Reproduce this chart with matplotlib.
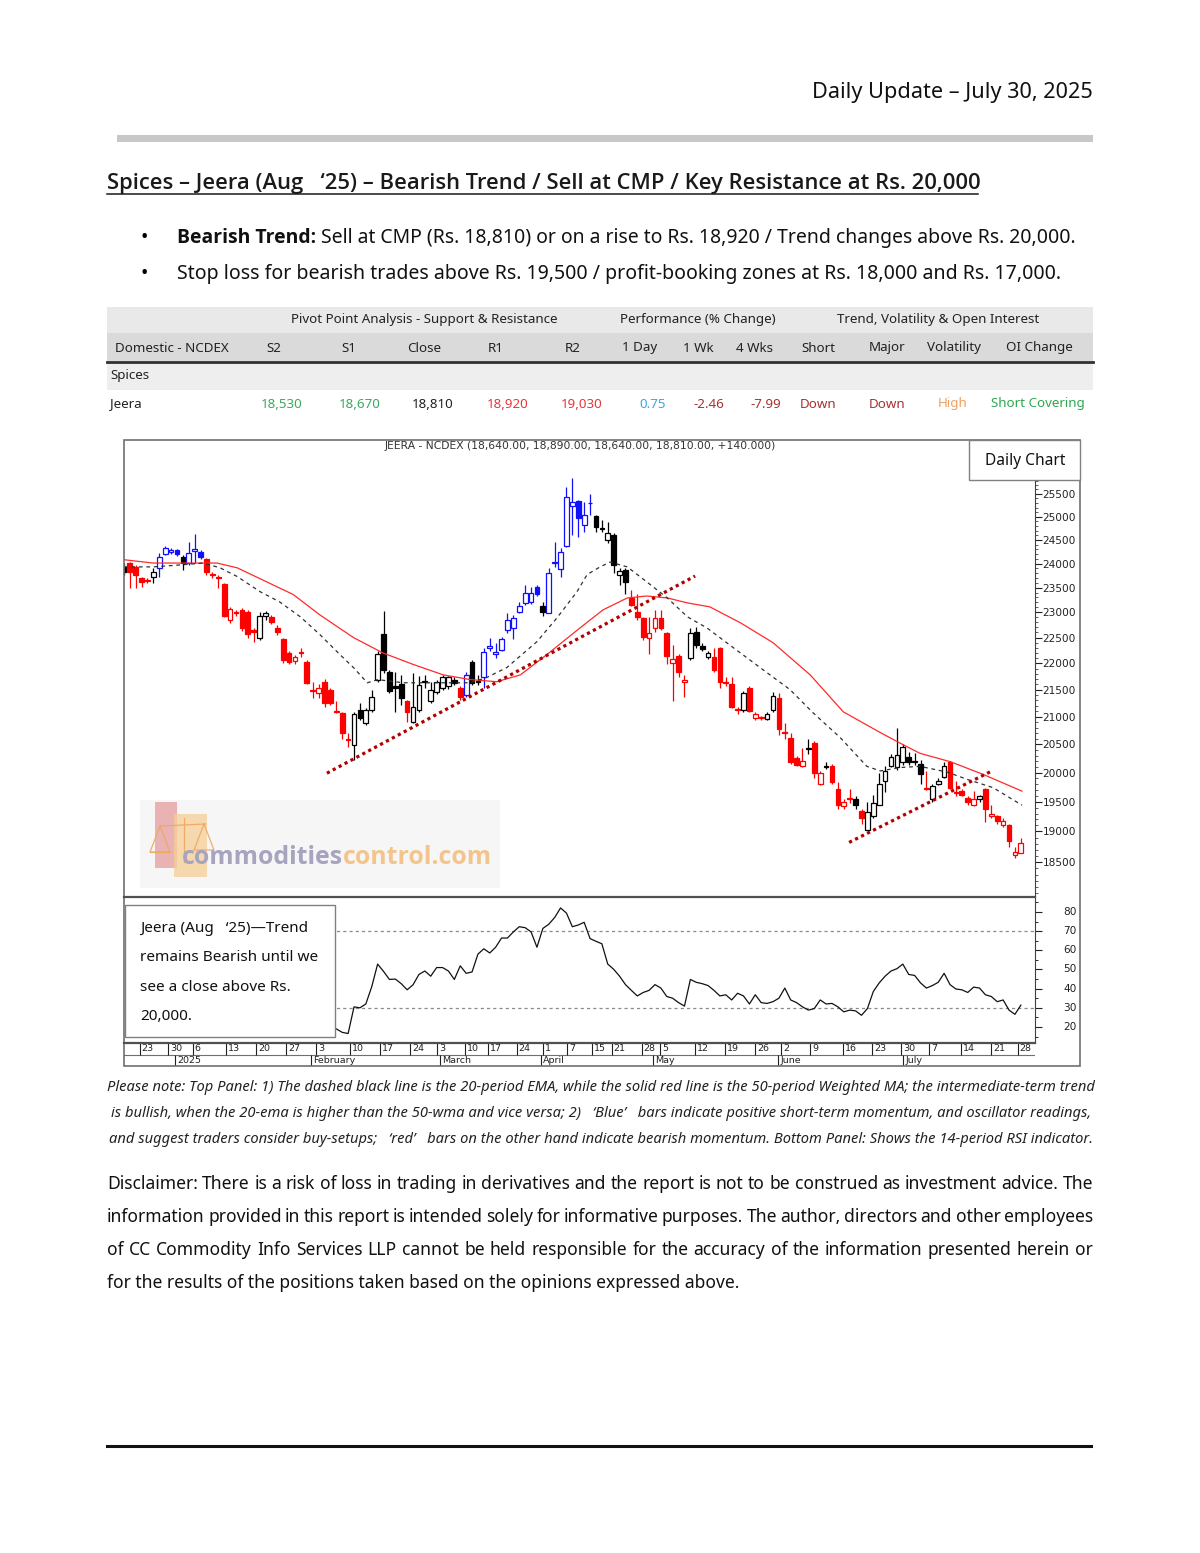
import numpy as np
import matplotlib
matplotlib.use('Agg')
import matplotlib.pyplot as plt
from matplotlib.patches import Rectangle
from matplotlib.lines import Line2D
from matplotlib.ticker import FixedLocator, FixedFormatter, NullFormatter

W, H = 1200, 1553
FONT = 'Noto Sans'
BOLD_FONT = ['Open Sans', 'DejaVu Sans']

# ---------------- data ----------------
opens = [23770, 23930, 24010, 23930, 23700, 23650, 23730, 23910, 24200, 24240,
         24290, 24140, 24010, 24270, 24240, 24100, 23790, 23720, 23580, 22850,
         23000, 23050, 23010, 22650, 22500, 22930, 22910, 22690, 22480, 22200,
         22050, 22190, 22030, 21500, 21440, 21650, 21500, 21110, 21070, 20590,
         20490, 21130, 20890, 21130, 21690, 22560, 21840, 21560, 21610, 21280,
         20910, 21130, 21640, 21280, 21460, 21540, 21560, 21690, 21540, 21410,
         22030, 21660, 21730, 22300, 22170, 22260, 22650, 22690, 23010, 23190,
         23210, 23520, 23130, 22990, 24010, 23890, 24370, 25230, 25340, 24820,
         25290, 25020, 24760, 24500, 24610, 23770, 23870, 23290, 23010, 22890,
         22500, 22690, 22890, 22590, 22010, 22150, 21650, 22110, 22610, 22340,
         22130, 22130, 22300, 21640, 21610, 21140, 21130, 21540, 20980, 20990,
         20960, 21130, 21350, 20730, 20620, 20260, 20120, 20410, 20530, 19810,
         20100, 20110, 19710, 19420, 19560, 19550, 19340, 19030, 19250, 19450,
         19860, 20120, 20090, 20180, 20280, 20200, 20160, 19740, 19540, 19810,
         19920, 20180, 19670, 19680, 19570, 19450, 19540, 19710, 19250, 19250,
         19100, 19100, 18620, 18640]
highs = [23930, 24010, 24040, 23960, 23720, 23700, 23910, 24220, 24380, 24330,
         24310, 24180, 24460, 24630, 24290, 24120, 23830, 23770, 23600, 23110,
         23050, 23090, 23050, 22680, 23010, 23030, 22950, 22750, 22500, 22240,
         22160, 22300, 22070, 21650, 21600, 21700, 21540, 21280, 21090, 20700,
         21090, 21250, 21160, 21500, 22230, 23030, 21880, 21840, 21780, 21310,
         21820, 21760, 21780, 21650, 21690, 21780, 21760, 21730, 21560, 21840,
         22070, 21780, 22300, 22500, 22400, 22520, 22990, 22950, 23210, 23560,
         23520, 23560, 23210, 23910, 24460, 24330, 25660, 25860, 25370, 25320,
         25500, 25040, 24930, 24890, 24650, 23910, 23910, 23460, 23370, 22910,
         22910, 23050, 23050, 22610, 22360, 22170, 21780, 22690, 22710, 22400,
         22240, 22300, 22320, 21730, 21730, 21180, 21480, 21560, 21090, 21020,
         21090, 21460, 21440, 20890, 20710, 20300, 20440, 20590, 20560, 20030,
         20180, 20150, 19830, 19550, 19710, 19590, 19370, 19500, 19620, 20000,
         20110, 20320, 20790, 20510, 20360, 20340, 20230, 20030, 19800, 19900,
         20180, 20200, 19850, 19710, 19600, 19680, 19620, 19740, 19450, 19280,
         19230, 19130, 18750, 18890]
lows = [23730, 23770, 23500, 23500, 23520, 23600, 23600, 23730, 24170, 24200,
        24150, 23870, 23970, 24010, 24100, 23770, 23700, 23500, 22900, 22790,
        22930, 22620, 22490, 22420, 22450, 22850, 22770, 22550, 22010, 21990,
        21990, 22130, 21610, 21350, 21350, 21180, 21220, 21070, 20590, 20450,
        20230, 20940, 20850, 21090, 21650, 21820, 21440, 21090, 21220, 20910,
        20890, 21090, 21540, 21260, 21420, 21500, 21520, 21580, 21310, 21370,
        21590, 21590, 21540, 22240, 22110, 22240, 22590, 22480, 22990, 23150,
        23170, 23330, 22930, 22990, 23930, 23730, 24350, 24610, 24560, 24670,
        25040, 24670, 24670, 24440, 23810, 23560, 23370, 23130, 22850, 22460,
        22170, 22610, 22650, 21990, 21280, 21740, 21370, 22070, 22300, 22240,
        22090, 21840, 21540, 21560, 21160, 21040, 21090, 21090, 20940, 20940,
        20940, 21090, 20670, 20590, 20160, 20110, 20100, 20320, 19900, 19790,
        20070, 19800, 19370, 19370, 19470, 19370, 19120, 19020, 19230, 19440,
        19660, 20090, 20050, 20140, 20140, 20140, 19800, 19700, 19500, 19790,
        19900, 19710, 19600, 19590, 19450, 19420, 19500, 19150, 19230, 19130,
        19070, 18750, 18570, 18640]
closes = [23910, 23820, 23830, 23770, 23620, 23630, 23830, 24140, 24330, 24290,
          24200, 24010, 24220, 24300, 24140, 23830, 23770, 23700, 22930, 23070,
          22980, 22690, 22570, 22600, 22930, 22990, 22810, 22610, 22070, 22030,
          22130, 22210, 21630, 21480, 21540, 21260, 21260, 21090, 20710, 20570,
          21040, 20980, 21130, 21370, 22170, 21880, 21480, 21540, 21350, 21090,
          21180, 21580, 21660, 21500, 21650, 21730, 21730, 21620, 21370, 21780,
          21630, 21640, 22220, 22330, 22220, 22480, 22850, 22890, 23130, 23390,
          23390, 23370, 23010, 23810, 24040, 24240, 25430, 25320, 24970, 25040,
          25310, 24780, 24740, 24650, 23970, 23850, 23620, 23150, 22910, 22520,
          22590, 22890, 22690, 22150, 22090, 21840, 21690, 22590, 22360, 22280,
          22200, 21880, 21650, 21620, 21180, 21120, 21430, 21110, 21050, 20970,
          21040, 21390, 20770, 20710, 20190, 20140, 20210, 20430, 20000, 19990,
          20120, 19830, 19450, 19500, 19540, 19440, 19230, 19320, 19470, 19800,
          20030, 20280, 20310, 20460, 20190, 20180, 19970, 19720, 19760, 19860,
          20110, 19730, 19650, 19610, 19500, 19540, 19590, 19370, 19300, 19170,
          19180, 18840, 18670, 18810]
# k = neutral, r = bearish momentum, b = positive momentum
bar_colors = ('kkrrrrk' 'bbbb' 'k' 'bbb' 'rrrrrrrrr' 'kk' 'rrrrrrrrrrrrrr'
              'kkkkkkkkk' 'r' 'kkkkkkkk' 'r' 'b' 'kk' 'bbbbbbbbbb' 'k'
              'bbbbbbbb' 'kkkkkk' 'rrrrrrrrrr' 'kkkk' 'rrrrr' 'k' 'rrr' 'kk'
              'rrrrr' 'k' 'rr' 'k' 'rrrr' 'k' 'r' 'kkkkkkkkkk' 'r' 'kkk'
              'rrrrr' 'k' 'rrrrrrr')

# 20-period EMA (dashed) and 50-period WMA (red) read at bar positions
ema_idx = [1.0, 5.95, 10.5, 14.5, 17.3, 20.2, 24.05, 27.4, 30.9, 34.2, 37.6,
           39.9, 42.25, 44.0, 48.3, 54.0, 59.7, 62.5, 65.9, 71.0, 74.4, 77.8,
           79.5, 81.7, 83.4, 86.3, 89.6, 93.1, 96.5, 99.8, 104.3, 110.0, 113.9,
           117.8, 122.4, 126.9, 129.2, 132.6, 135.9, 140.5, 144.0, 148.3, 153.2]
ema_val = [23930, 23930, 23970, 24010, 23910, 23730, 23420, 23210, 22910,
           22560, 22170, 21920, 21630, 21690, 21630, 21630, 21630, 21730, 21920,
           22420, 22890, 23420, 23770, 23930, 24030, 23930, 23620, 23290, 22910,
           22690, 22300, 21820, 21500, 21070, 20620, 20110, 20030, 20090, 20110,
           20010, 19880, 19740, 19440]
wma_idx = [1.0, 5.95, 11.7, 16.8, 20.2, 24.5, 29.7, 34.2, 39.9, 44.9, 50.0,
           55.1, 59.7, 64.2, 68.2, 72.7, 75.4, 78.3, 82.2, 86.3, 89.6, 93.1,
           96.5, 100.3, 105.5, 111.0, 117.3, 122.9, 129.2, 133.1, 135.9, 141.1,
           146.6, 153.2]
wma_val = [24080, 24010, 24010, 24010, 23910, 23660, 23360, 22950, 22500,
           22200, 21980, 21780, 21690, 21650, 21780, 22170, 22420, 22690, 23050,
           23290, 23330, 23290, 23190, 23110, 22790, 22400, 21780, 21090, 20710,
           20490, 20340, 20190, 19970, 19680]

trend1_idx = [35.4, 97.8]
trend1_val = [19990, 23740]
trend2_idx = [123.9, 148.3]
trend2_val = [18820, 20040]

rsi = [19, 17.2, 16.6, 30.5, 30, 32, 41, 52.8, 49, 44.8,
       45, 42.6, 39.4, 42, 47.4, 49.2, 46.5, 51, 51, 49.2,
       44.8, 51.9, 48, 48.7, 58, 60.8, 58.6, 61.6, 66.4, 66.4,
       69.6, 72.3, 71.8, 69.6, 61.6, 71.4, 73.6, 77.1, 82.1, 79.4,
       72.3, 73.2, 74.6, 66.1, 64.7, 63.4, 52.8, 50.1, 46.5, 42.1,
       39.1, 36.2, 38, 39.1, 42.1, 40.3, 35.9, 35, 32.7, 30.9,
       44.8, 43.3, 42.6, 41.6, 39.1, 36.2, 36.8, 34.1, 37.6, 36.2,
       32, 36.8, 32.7, 32.3, 33.2, 35, 40.3, 34.1, 32.7, 30.5,
       28.8, 29.6, 34.1, 32, 32.3, 30.5, 27.9, 28.8, 28.4, 26.1,
       29.6, 38.5, 43, 46.5, 49.2, 50.4, 52.8, 47.4, 46.9, 43,
       40.3, 41.6, 43.3, 48, 42.1, 39.8, 39.4, 38, 40.8, 40.3,
       36.8, 35.9, 33.2, 34.1, 28.8, 26.6, 31.4]

price_ticks = [18500, 19000, 19500, 20000, 20500, 21000, 21500, 22000,
               22500, 23000, 23500, 24000, 24500, 25000, 25500]
rsi_ticks = [20, 30, 40, 50, 60, 70, 80]

day_labels = ['23', '30', '6', '13', '20', '27', '3', '10', '17', '24', '3',
              '10', '17', '24', '1', '7', '15', '21', '28', '5', '12', '19',
              '26', '2', '9', '16', '23', '30', '7', '14', '21', '28']
day_pos = [3.7, 8.5, 12.7, 18.3, 23.4, 28.5, 33.6, 39.3, 44.4, 49.5, 54.1,
           58.8, 62.7, 67.6, 72.0, 76.1, 80.3, 83.7, 88.8, 91.9, 97.8, 102.9,
           108.0, 112.4, 117.3, 122.9, 127.8, 132.7, 137.5, 142.9, 148.0, 152.5]
month_labels = ['2025', 'February', 'March', 'April', 'May', 'June', 'July']
month_pos = [9.7, 32.7, 54.6, 71.7, 90.7, 111.9, 133.1]

group_headers = ['Pivot Point Analysis - Support & Resistance',
                 'Performance (% Change)', 'Trend, Volatility & Open Interest']
col_headers = ['Domestic - NCDEX', 'S2', 'S1', 'Close', 'R1', 'R2', '1 Day',
               '1 Wk', '4 Wks', 'Short', 'Major', 'Volatility', 'OI Change']
row_values = ['Jeera', '18,530', '18,670', '18,810', '18,920', '19,030', '0.75',
              '-2.46', '-7.99', 'Down', 'Down', 'High', 'Short Covering']
value_colors = ['#222222', '#3aaa5c', '#3aaa5c', '#222222', '#e8353a',
                '#e8353a', '#3aa8dc', '#a83232', '#a83232', '#a83232',
                '#a83232', '#f0a060', '#2ea84e']

update_title = 'Daily Update \u2013 July 30, 2025'
heading = ('Spices \u2013 Jeera (Aug   \u201825) \u2013 Bearish Trend / Sell at CMP / '
           'Key Resistance at Rs. 20,000')
bullet1 = [('Bearish Trend:', 'bold'),
           (' Sell at CMP (Rs. 18,810) or on a rise to Rs. 18,920 / Trend changes above Rs. 20,000.', 'normal')]
bullet2 = 'Stop loss for bearish trades above Rs. 19,500 / profit-booking zones at Rs. 18,000 and Rs. 17,000.'
chart_title = 'JEERA - NCDEX (18,640.00, 18,890.00, 18,640.00, 18,810.00, +140.000)'
rsi_note = ['Jeera (Aug   \u201825)\u2014Trend', 'remains Bearish until we',
            'see a close above Rs.', '20,000.']
caption = ['Please note: Top Panel: 1) The dashed black line is the 20-period EMA, while the solid red line is the 50-period Weighted MA; the intermediate-term trend',
           'is bullish, when the 20-ema is higher than the 50-wma and vice versa; 2)   \u2018Blue\u2019   bars indicate positive short-term momentum, and oscillator readings,',
           'and suggest traders consider buy-setups;   \u2018red\u2019   bars on the other hand indicate bearish momentum. Bottom Panel: Shows the 14-period RSI indicator.']
disclaimer = ['Disclaimer: There is a risk of loss in trading in derivatives and the report is not to be construed as investment advice. The',
              'information provided in this report is intended solely for informative purposes. The author, directors and other employees',
              'of CC Commodity Info Services LLP cannot be held responsible for the accuracy of the information presented herein or',
              'for the results of the positions taken based on the opinions expressed above.']

# ---------------- helpers ----------------
fig = plt.figure(figsize=(W / 100, H / 100), dpi=100)
fig.patch.set_facecolor('white')
renderer = fig.canvas.get_renderer()


def px_axes(x0, y0, x1, y1):
    return fig.add_axes([x0 / W, 1 - y1 / H, (x1 - x0) / W, (y1 - y0) / H])


def put(x, y, s, size, **kw):
    kw.setdefault('family', FONT)
    return fig.text(x / W, 1 - y / H, s, fontsize=size, **kw)


def width(t):
    return t.get_window_extent(renderer).width


def fit(s, target, **kw):
    t = put(0, 0, s, 10, **kw)
    w = width(t)
    t.remove()
    return 10 * target / w


def pline(xs, ys, **kw):
    fig.add_artist(Line2D([v / W for v in xs], [1 - v / H for v in ys], **kw))


def hline(x0, x1, y, **kw):
    pline([x0, x1], [y, y], **kw)


def box(x0, y0, x1, y1, **kw):
    fig.add_artist(Rectangle((x0 / W, 1 - y1 / H), (x1 - x0) / W, (y1 - y0) / H, **kw))


# ---------------- page header ----------------
s = fit(update_title, 280)
put(1093, 98, update_title, s, ha='right', va='baseline', color='#111111')
box(117, 135, 1093, 142, facecolor='#c8c8c8', edgecolor='none')

s = fit(heading, 871, family=BOLD_FONT, fontweight='semibold')
put(107, 189, heading, s, family=BOLD_FONT, fontweight='semibold',
    va='baseline', color='#1a1a1a')
hline(107, 978, 194, color='#1a1a1a', lw=1.1)

bs = fit(bullet2, 882)
# bullet 1 is scaled so its two runs together span the same width as in the page
w1 = 0
for txt, wt in bullet1:
    fam = BOLD_FONT if wt == 'bold' else FONT
    tt = put(0, 0, txt, bs, family=fam, fontweight=wt)
    w1 += width(tt)
    tt.remove()
bs1 = bs * 898 / w1
put(141, 243, '\u2022', bs, va='baseline')
x = 177
for txt, wt in bullet1:
    fam = BOLD_FONT if wt == 'bold' else FONT
    t = put(x, 243, txt, bs1, family=fam, fontweight=wt, va='baseline', color='#111111')
    x += width(t)
put(141, 279, '\u2022', bs, va='baseline')
put(177, 279, bullet2, bs, va='baseline', color='#111111')

# ---------------- table ----------------
box(107, 307, 1093, 333, facecolor='#e9e9e9', edgecolor='none')
box(107, 333, 1093, 361, facecolor='#dadada', edgecolor='none')
box(107, 363, 1093, 390, facecolor='#eeeeee', edgecolor='none')
hline(107, 1093, 362, color='#303030', lw=2)

ts = fit(group_headers[0], 267)
for gx, g in zip([424, 698, 938], group_headers):
    put(gx, 320, g, ts, ha='center', va='center', color='#222222')
header_x = [115, 274, 349, 424, 496, 573, 640, 698, 755, 818, 887, 954, 1039]
value_x = [110, 282, 360, 433, 508, 582, 653, 709, 766, 818, 887, 953, 1038]
for i, (hx, lab) in enumerate(zip(header_x, col_headers)):
    put(hx, 348, lab, ts, ha='left' if i == 0 else 'center', va='center', color='#222222')
put(110, 376, 'Spices', ts, va='center', color='#222222')
for i, (vx, v, c) in enumerate(zip(value_x, row_values, value_colors)):
    put(vx, 404, v, ts, ha='left' if i == 0 else 'center', va='center', color=c)

# ---------------- price panel ----------------
n = len(opens)
idx = np.arange(n)
o = np.array(opens, float)
hi = np.array(highs, float)
lo = np.array(lows, float)
cl = np.array(closes, float)
cmap = {'k': '#000000', 'r': '#ff0000', 'b': '#1010ff'}
cols = np.array([cmap[c] for c in bar_colors])
filled = cl < o
top = np.maximum(o, cl)
bot = np.minimum(o, cl)
XL = (1.02, 155.4)

ax = px_axes(124, 440, 1035, 897)
ax.set_yscale('log')
ax.set_xlim(*XL)
ax.set_ylim(17945, 26729)
ax.vlines(idx, lo, hi, colors=cols, lw=0.9, zorder=2)
ax.bar(idx, np.maximum(top - bot, 6), bottom=bot, width=0.8,
       color=np.where(filled, cols, 'white'), edgecolor=cols, linewidth=0.9, zorder=3)
ax.plot(wma_idx, wma_val, color='#ff2a2a', lw=0.9, zorder=4)
ax.plot(ema_idx, ema_val, color='#303030', lw=0.9, dashes=(3, 3), zorder=4)
for tx, tv in [(trend1_idx, trend1_val), (trend2_idx, trend2_val)]:
    ax.plot(tx, tv, color='#b00000', lw=2.3, linestyle=(0, (1, 1.1)),
            dash_capstyle='butt', zorder=5)
ax.yaxis.tick_right()
ax.yaxis.set_major_locator(FixedLocator(price_ticks))
ax.yaxis.set_major_formatter(FixedFormatter([str(v) for v in price_ticks]))
ax.yaxis.set_minor_locator(FixedLocator(np.arange(18000, 26700, 100)))
ax.yaxis.set_minor_formatter(NullFormatter())
ax.tick_params(axis='y', which='major', length=5, width=0.8, labelsize=7.6,
               pad=0.5, colors='#222222')
ax.tick_params(axis='y', which='minor', length=2.5, width=0.6, colors='#444444')
ax.set_xticks([])
for sp in ['left', 'top', 'bottom']:
    ax.spines[sp].set_visible(False)
ax.spines['right'].set_color('#404040')

# ---------------- RSI panel ----------------
ar = px_axes(124, 897, 1035, 1043)
ar.set_xlim(*XL)
ar.set_ylim(11.65, 87.8)
for lvl in (70, 30):
    ar.axhline(lvl, color='#8a8a8a', lw=0.9, dashes=(2.5, 2.5))
ar.plot(np.arange(n - len(rsi), n), rsi, color='#111111', lw=0.9)
ar.yaxis.tick_right()
ar.yaxis.set_major_locator(FixedLocator(rsi_ticks))
ar.yaxis.set_major_formatter(NullFormatter())
ar.yaxis.set_minor_locator(FixedLocator(np.arange(15, 90, 5)))
ar.tick_params(axis='y', which='major', length=5, width=0.8, colors='#222222')
ar.tick_params(axis='y', which='minor', length=2.5, width=0.6)
for v in rsi_ticks:
    ar.text(1 + 28 / 911, v, str(v), transform=ar.get_yaxis_transform(),
            fontsize=7.6, va='center', ha='left', color='#222222', clip_on=False)
ar.set_xticks([])
for sp in ['left', 'top', 'bottom']:
    ar.spines[sp].set_visible(False)
ar.spines['right'].set_color('#404040')

# ---------------- date axis ----------------
ad = px_axes(124, 1043, 1035, 1066)
ad.set_xlim(*XL)
ad.set_ylim(0, 2)
ad.axis('off')
ad.axhline(1.0, color='#707070', lw=0.8)
ad.vlines(day_pos, 1.0, 2.0, color='#202020', lw=0.8)
for p, lab in zip(day_pos, day_labels):
    ad.text(p + 0.3, 1.48, lab, fontsize=6.8, va='center', ha='left', color='#222222')
ad.vlines(month_pos, 0, 1.0, color='#202020', lw=0.8)
for p, lab in zip(month_pos, month_labels):
    ad.text(p + 0.3, 0.45, lab, fontsize=6.8, va='center', ha='left', color='#222222')

hline(124, 1035, 897, color='#505050', lw=1.6)
hline(124, 1035, 1043, color='#505050', lw=1.6)
box(124, 440, 1080, 1066, facecolor='none', edgecolor='#707070', lw=1.2)

s = fit(chart_title, 391, family='DejaVu Sans')
put(580, 446, chart_title, s, family='DejaVu Sans', ha='center', va='center', color='#333333')
box(969, 440, 1080, 480, facecolor='white', edgecolor='#808080', lw=1)
s = fit('Daily Chart', 80)
put(1025, 461, 'Daily Chart', s, ha='center', va='center', color='#111111')

# watermark (logo block with a faint balance-scale sketch)
box(140, 800, 500, 888, facecolor='#f6f6f6', edgecolor='none')
box(155, 802, 177, 868, facecolor='#e6a2a2', edgecolor='none', alpha=0.8)
box(174, 814, 207, 877, facecolor='#f7cf98', edgecolor='none', alpha=0.75)
sc = dict(color='#eea860', lw=0.9, alpha=0.9)
pline([184, 184], [818, 862], **sc)
pline([160, 206], [826, 824], **sc)
pline([160, 150, 170, 160], [826, 852, 852, 826], **sc)
pline([204, 194, 214, 204], [824, 850, 850, 824], **sc)
pline([150, 170], [852, 852], **sc)
ws = fit('commodities', 161, family=BOLD_FONT, fontweight='bold')
t = put(182, 864, 'commodities', ws, family=BOLD_FONT, fontweight='bold',
        va='baseline', color='#a6a4bf')
put(182 + width(t), 864, 'control.com', ws, family=BOLD_FONT, fontweight='bold',
    va='baseline', color='#f3c58c')

# RSI note box
box(125, 905, 335, 1037, facecolor='white', edgecolor='#808080', lw=1)
ns = fit(rsi_note[1], 178)
for k, line in enumerate(rsi_note):
    put(140, 932 + k * 29.3, line, ns, va='baseline', color='#111111')

# ---------------- caption & disclaimer ----------------
cs = fit(caption[0], 984, style='italic')
for k, line in enumerate(caption):
    put(601, 1091 + k * 26, line, cs, style='italic', ha='center', va='baseline', color='#222222')

dsz = fit(disclaimer[3], 631)
for k, line in enumerate(disclaimer):
    y = 1189 + k * 33
    if k == len(disclaimer) - 1:
        put(107, y, line, dsz, va='baseline', color='#111111')
        continue
    words = line.split(' ')
    tx = [put(107, y, w_, dsz, va='baseline', color='#111111') for w_ in words]
    ws_ = [width(t_) for t_ in tx]
    gap = (1093 - 107 - sum(ws_)) / (len(words) - 1)
    xx = 107
    for t_, w_ in zip(tx, ws_):
        t_.set_x(xx / W)
        xx += w_ + gap

hline(107, 1091, 1446, color='#111111', lw=2.2)

fig.savefig('out.png', dpi=100, facecolor='white')
